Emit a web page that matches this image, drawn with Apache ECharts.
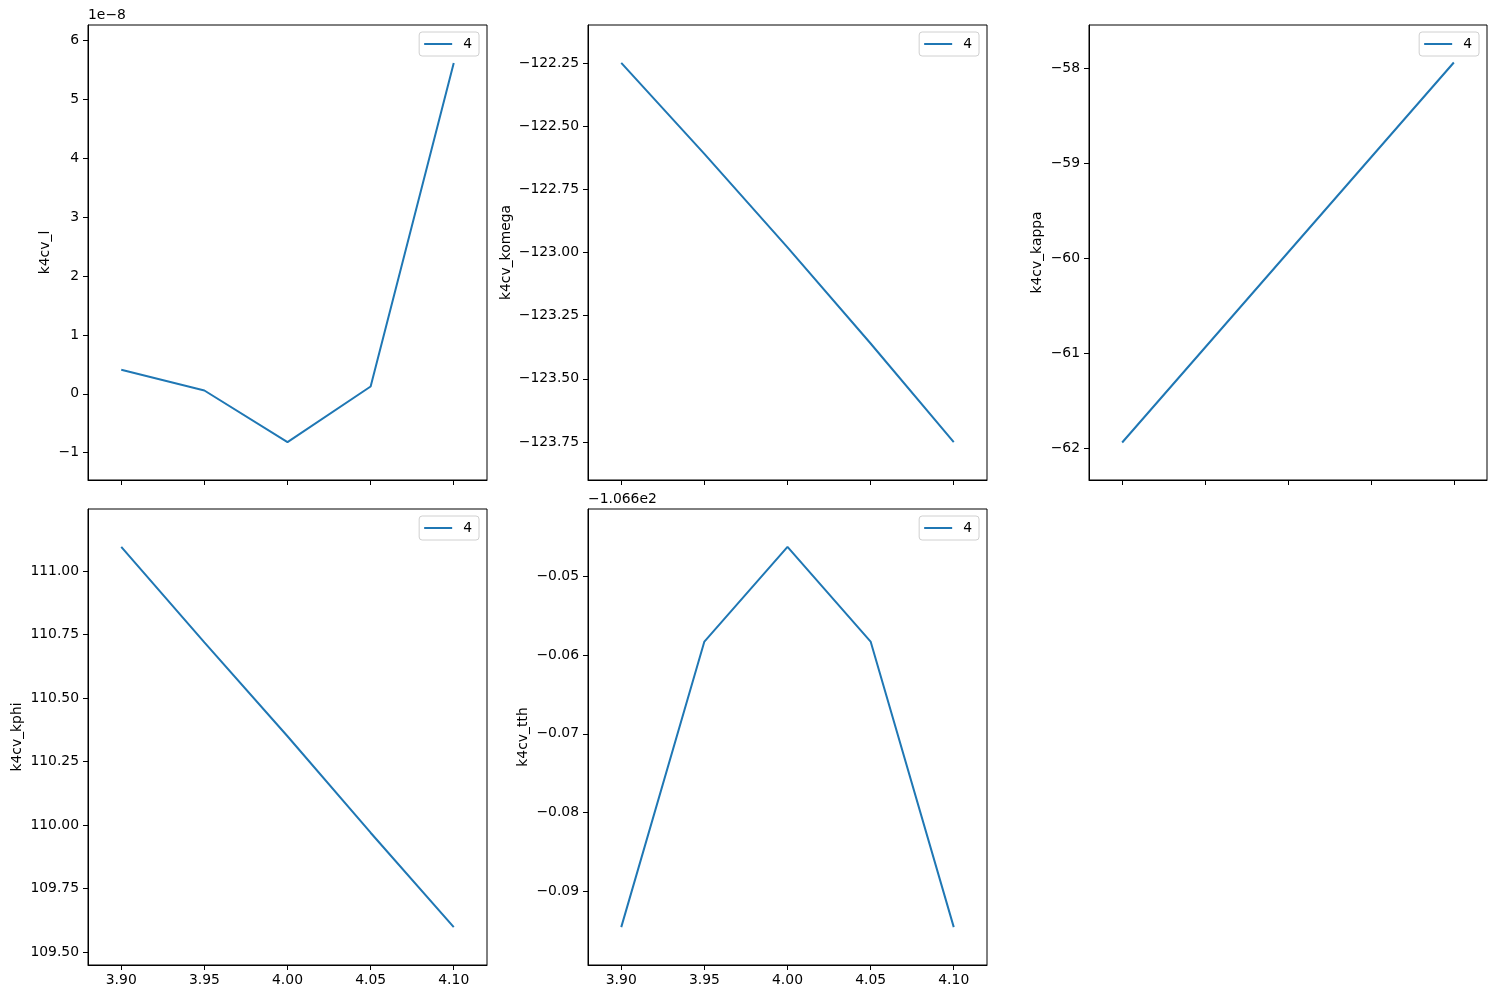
<!DOCTYPE html>
<html>
<head>
<meta charset="utf-8">
<script src="https://cdn.jsdelivr.net/npm/echarts@6/dist/echarts.min.js"></script>
<style>html,body{margin:0;padding:0;background:#fff;}#c{width:1496px;height:999px;}</style>
</head>
<body>
<div id="c"></div>
<script>
// ---- data ----
const xValues = [3.90, 3.95, 4.00, 4.05, 4.10];
const xTicks = [3.90, 3.95, 4.00, 4.05, 4.10];
const seriesName = '4';

// k4cv_l, in units of 1e-8
const k4cvL = [0.407, 0.056, -0.82, 0.124, 5.62];
const k4cvLTicks = [-1, 0, 1, 2, 3, 4, 5, 6];
const k4cvLOffset = '1e\u22128';

const k4cvKomega = [-122.25, -122.61, -122.98, -123.36, -123.75];
const k4cvKomegaTicks = [-123.75, -123.50, -123.25, -123.00, -122.75, -122.50, -122.25];

const k4cvKappa = [-61.94, -60.94, -59.94, -58.94, -57.94];
const k4cvKappaTicks = [-62, -61, -60, -59, -58];

const k4cvKphi = [111.096, 110.72, 110.35, 109.97, 109.598];
const k4cvKphiTicks = [109.50, 109.75, 110.00, 110.25, 110.50, 110.75, 111.00];

// k4cv_tth, relative to offset -106.6
const k4cvTth = [-0.0945, -0.0583, -0.0463, -0.0583, -0.0945];
const k4cvTthTicks = [-0.09, -0.08, -0.07, -0.06, -0.05];
const k4cvTthOffset = '\u22121.066e2';

// ---- chart ----
const FONT = 'DejaVu Sans';
const FS = 13.9;
const BLUE = '#1f77b4';
const minus = s => String(s).replace(/-/g, '\u2212');

const panels = [
  {name: 'k4cv_l', y: k4cvL, ticks: k4cvLTicks, min: -1.464, max: 6.264, dec: 0, grid: {left: 88, top: 25, width: 399, height: 455}, showX: false, nameGap: 36},
  {name: 'k4cv_komega', y: k4cvKomega, ticks: k4cvKomegaTicks, min: -123.9, max: -122.1, dec: 2, grid: {left: 588, top: 25, width: 399, height: 455}, showX: false, nameGap: 75},
  {name: 'k4cv_kappa', y: k4cvKappa, ticks: k4cvKappaTicks, min: -62.335, max: -57.545, dec: 0, grid: {left: 1089, top: 25, width: 398, height: 455}, showX: false, nameGap: 45},
  {name: 'k4cv_kphi', y: k4cvKphi, ticks: k4cvKphiTicks, min: 109.449, max: 111.245, dec: 2, grid: {left: 88, top: 509, width: 399, height: 456}, showX: true, nameGap: 64},
  {name: 'k4cv_tth', y: k4cvTth, ticks: k4cvTthTicks, min: -0.0993, max: -0.0415, dec: 2, grid: {left: 588, top: 509, width: 399, height: 456}, showX: true, nameGap: 58}
];

const grids = [], xAxes = [], yAxes = [], series = [], legends = [];
panels.forEach((p, i) => {
  grids.push(Object.assign({show: true, borderColor: '#000', borderWidth: 1, containLabel: false}, p.grid));
  xAxes.push({
    type: 'value', gridIndex: i, min: 3.88, max: 4.12,
    splitLine: {show: false},
    axisLine: {show: true, onZero: false, lineStyle: {color: '#000', width: 1}},
    axisTick: {show: true, inside: false, length: 5, lineStyle: {color: '#000', width: 1}, customValues: xTicks},
    axisLabel: {show: p.showX, margin: 8, color: '#000', fontFamily: FONT, fontSize: FS, customValues: xTicks,
      formatter: v => minus(Number(v).toFixed(2))}
  });
  yAxes.push({
    type: 'value', gridIndex: i, min: p.min, max: p.max,
    name: p.name, nameLocation: 'middle', nameGap: p.nameGap, nameRotate: 90,
    nameTextStyle: {color: '#000', fontFamily: FONT, fontSize: FS},
    splitLine: {show: false},
    axisLine: {show: true, onZero: false, lineStyle: {color: '#000', width: 1}},
    axisTick: {show: true, inside: false, length: 5, lineStyle: {color: '#000', width: 1}, customValues: p.ticks},
    axisLabel: {show: true, margin: 9, color: '#000', fontFamily: FONT, fontSize: FS, customValues: p.ticks,
      formatter: v => minus(Number(v).toFixed(p.dec))}
  });
  series.push({
    name: seriesName, type: 'line', xAxisIndex: i, yAxisIndex: i,
    data: xValues.map((x, k) => [x, p.y[k]]),
    symbol: 'none', showSymbol: false,
    lineStyle: {color: BLUE, width: 2}, itemStyle: {color: BLUE},
    animation: false
  });
  const g = p.grid;
  legends.push({
    show: true, data: [seriesName],
    right: 1496 - (g.left + g.width) + 8, top: g.top + 7,
    icon: 'rect', itemWidth: 28, itemHeight: 2, itemGap: 0,
    padding: [5, 7, 5, 5],
    borderColor: '#d0d0d0', borderWidth: 1, borderRadius: 3,
    backgroundColor: 'rgba(255,255,255,0.8)',
    textStyle: {color: '#000', fontFamily: FONT, fontSize: FS, padding: [0, 0, 0, 6]},
    selectedMode: false
  });
});

const chart = echarts.init(document.getElementById('c'), null, {renderer: 'canvas'});
chart.setOption({
  backgroundColor: '#fff',
  animation: false,
  grid: grids, xAxis: xAxes, yAxis: yAxes, series: series, legend: legends,
  graphic: [
    {type: 'text', left: 88, top: 8, style: {text: k4cvLOffset, fill: '#000', font: FS + 'px "' + FONT + '"'}},
    {type: 'text', left: 588, top: 492, style: {text: k4cvTthOffset, fill: '#000', font: FS + 'px "' + FONT + '"'}}
  ]
});
</script>
</body>
</html>
